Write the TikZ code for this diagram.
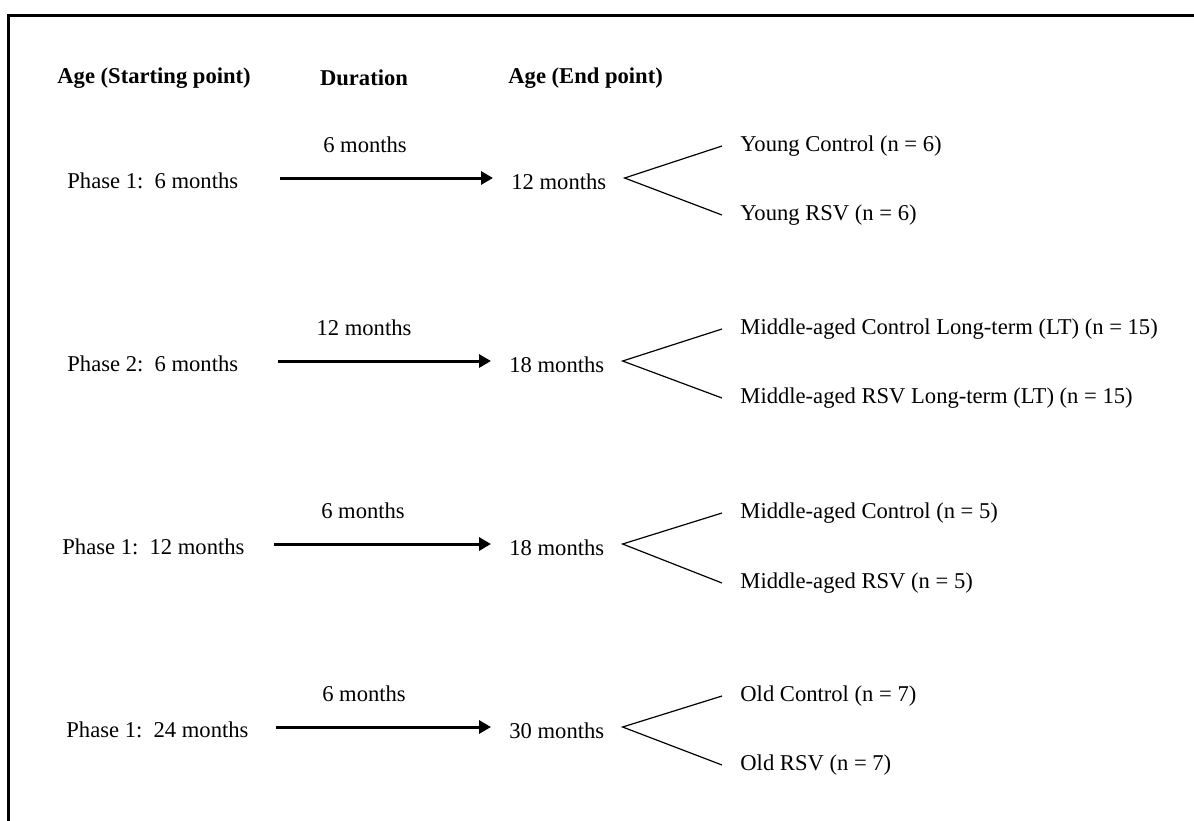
\documentclass[tikz,border=0pt]{standalone}
\usepackage{fontspec}
\setmainfont{Liberation Serif}
\usetikzlibrary{arrows.meta}

\begin{document}
\begin{tikzpicture}[x=0.5pt, y=-0.5pt,
  hdr/.style={font=\fontsize{11.3}{13}\selectfont\bfseries, inner sep=0pt},
  lbl/.style={font=\fontsize{11.3}{13}\selectfont, inner ysep=0pt, inner xsep=9pt},
  arr/.style={-{Triangle[length=6pt, width=6.5pt]}, line width=1.5pt},
  fork/.style={line width=0.6pt},
]
  \useasboundingbox (0,0) rectangle (1194,820);

  % Frame (runs off at right and bottom)
  \coordinate (fb) at (8,830);
  \coordinate (fc) at (8,15);
  \coordinate (fr) at (1204,15);
  \draw[line width=1.5pt] (fb) -- (fc) -- (fr);

  % Headers
  \node[hdr, anchor=west] (h1) at (57,78) {Age (Starting point)};
  \node[hdr] (h2) at (364,78) {Duration};
  \node[hdr, anchor=west] (h3) at (508,78) {Age (End point)};

  % Row 1
  \node[lbl, anchor=west] (s1) at (49,181) {Phase 1:~~6 months};
  \coordinate (a1) at (280,178);
  \node[lbl, anchor=west] (e1) at (493,182) {12 months};
  \node[lbl] (d1) at (365,145) {6 months};
  \node[lbl, anchor=west] (u1) at (722,146) {Young Control (n = 6)};
  \node[lbl, anchor=west] (l1) at (722,215) {Young RSV (n = 6)};
  \draw[arr] (a1) -- (a1 -| e1.west);
  \draw[fork] (u1.west) -- (e1.east |- a1) -- (l1.west);

  % Row 2
  \node[lbl, anchor=west] (s2) at (49,364) {Phase 2:~~6 months};
  \coordinate (a2) at (278,361);
  \node[lbl, anchor=west] (e2) at (491,365) {18 months};
  \node[lbl] (d2) at (364,328) {12 months};
  \node[lbl, anchor=west] (u2) at (722,329) {Middle-aged Control Long-term (LT) (n = 15)};
  \node[lbl, anchor=west] (l2) at (722,398) {Middle-aged RSV Long-term (LT) (n = 15)};
  \draw[arr] (a2) -- (a2 -| e2.west);
  \draw[fork] (u2.west) -- (e2.east |- a2) -- (l2.west);

  % Row 3
  \node[lbl, anchor=west] (s3) at (44,547) {Phase 1:~~12 months};
  \coordinate (a3) at (274,544);
  \node[lbl, anchor=west] (e3) at (491,548) {18 months};
  \node[lbl] (d3) at (363,511) {6 months};
  \node[lbl, anchor=west] (u3) at (722,513) {Middle-aged Control (n = 5)};
  \node[lbl, anchor=west] (l3) at (722,583) {Middle-aged RSV (n = 5)};
  \draw[arr] (a3) -- (a3 -| e3.west);
  \draw[fork] (u3.west) -- (e3.east |- a3) -- (l3.west);

  % Row 4
  \node[lbl, anchor=west] (s4) at (48,730) {Phase 1:~~24 months};
  \coordinate (a4) at (276,727);
  \node[lbl, anchor=west] (e4) at (491,731) {30 months};
  \node[lbl] (d4) at (364,694) {6 months};
  \node[lbl, anchor=west] (u4) at (722,696) {Old Control (n = 7)};
  \node[lbl, anchor=west] (l4) at (722,765) {Old RSV (n = 7)};
  \draw[arr] (a4) -- (a4 -| e4.west);
  \draw[fork] (u4.west) -- (e4.east |- a4) -- (l4.west);
\end{tikzpicture}
\end{document}
